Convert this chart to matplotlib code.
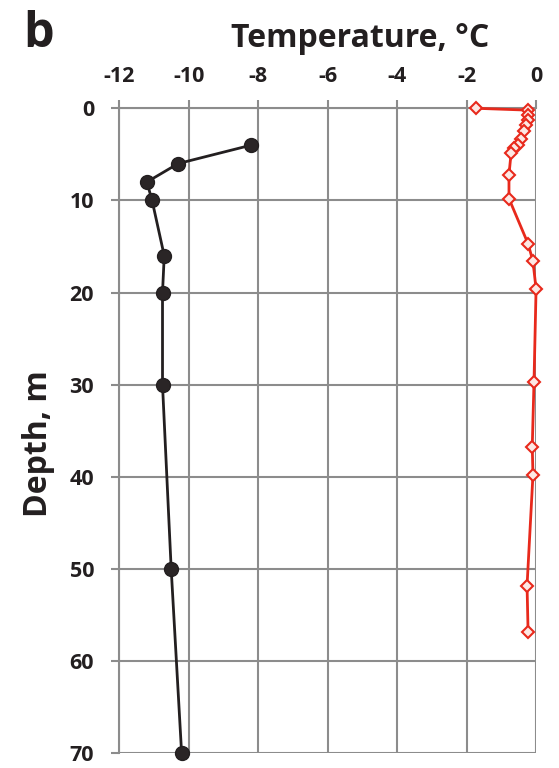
import numpy as np
import matplotlib.pyplot as plt

plt.rcParams['font.family'] = ['Open Sans', 'DejaVu Sans']
plt.rcParams['font.weight'] = 'bold'

# black profile
black_temp = [-8.2, -10.3, -11.2, -11.05, -10.7, -10.75, -10.75, -10.5, -10.2]
black_depth = [4, 6, 8, 10, 16, 20, 30, 50, 70]

# red profile
red_temp = [-1.73, -0.24, -0.24, -0.24, -0.3, -0.34, -0.43, -0.53, -0.63, -0.72,
            -0.78, -0.78, -0.23, -0.09, 0.0, -0.06, -0.11, -0.09, -0.26, -0.23]
red_depth = [0, 0.2, 0.7, 1.3, 1.8, 2.5, 3.3, 4.0, 4.3, 4.9,
             7.2, 9.8, 14.7, 16.6, 19.6, 29.7, 36.7, 39.8, 51.8, 56.8]

xticks = [-12, -10, -8, -6, -4, -2, 0]
yticks = [0, 10, 20, 30, 40, 50, 60, 70]

fig = plt.figure(figsize=(5.59, 7.68), dpi=100)
ax = fig.add_axes([0.213, 0.019, 0.746, 0.84])

ax.plot(black_temp, black_depth, color='#231f20', lw=2, marker='o', ms=10,
        markerfacecolor='#2a2526', markeredgecolor='#231f20', zorder=3,
        clip_on=False)
ax.plot(red_temp, red_depth, color='#e8291c', lw=2, marker='D', ms=6.5,
        markerfacecolor='#fde8e4', markeredgecolor='#e8291c', markeredgewidth=1.5,
        zorder=3, clip_on=False)

ax.set_xlim(-12, 0)
ax.set_ylim(70, 0)
ax.set_xticks(xticks)
ax.set_yticks(yticks)
ax.xaxis.tick_top()
ax.set_xticklabels([str(t) for t in xticks])
ax.tick_params(axis='both', direction='out', length=6, width=1.5,
               color='#8c8c8c', labelsize=15.5)
ax.tick_params(axis='x', pad=9)
ax.tick_params(axis='y', pad=12)
for lab in ax.get_xticklabels() + ax.get_yticklabels():
    lab.set_fontweight('bold')
    lab.set_color('#231f20')

ax.grid(True, color='#8c8c8c', lw=1.5)
ax.set_axisbelow(True)
for s in ['right', 'bottom']:
    ax.spines[s].set_visible(False)
for s in ['left', 'top']:
    ax.spines[s].set_color('#8c8c8c')
    ax.spines[s].set_linewidth(1.5)

fig.text(0.644, 0.939, 'Temperature, °C', fontsize=23, fontweight='bold',
         color='#231f20', ha='center', va='baseline')
fig.text(0.068, 0.423, 'Depth, m', fontsize=23, fontweight='bold',
         color='#231f20', ha='center', va='center', rotation=90)

fig.text(0.042, 0.939, 'b', fontsize=35, fontweight='bold', color='#231f20',
         va='baseline')

fig.savefig('out.png', dpi=100)
